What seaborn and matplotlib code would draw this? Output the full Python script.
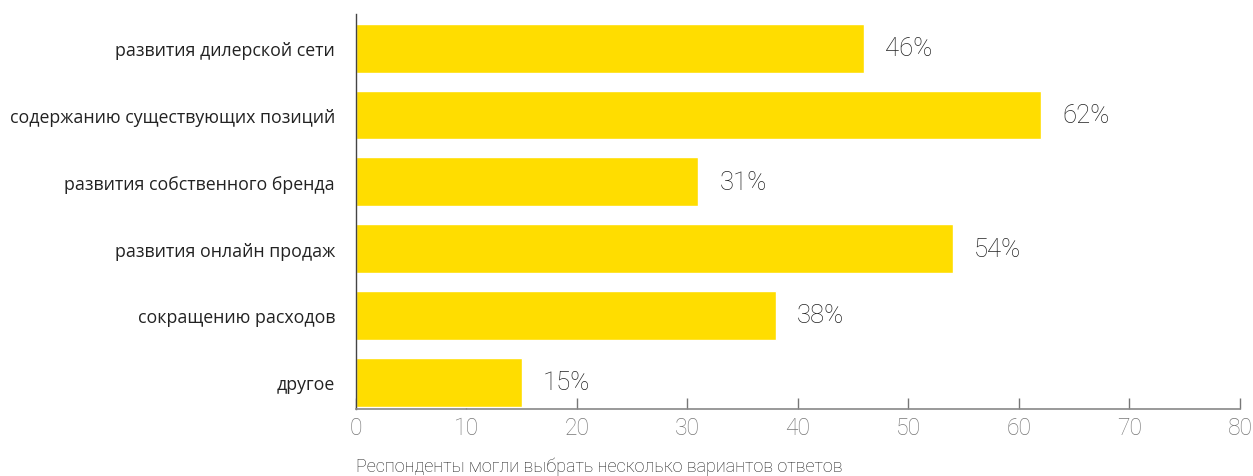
import matplotlib
matplotlib.use("Agg")
import matplotlib.pyplot as plt
import seaborn as sns
import pandas as pd

categories = [
    "развития дилерской сети",
    "содержанию существующих позиций",
    "развития собственного бренда",
    "развития онлайн продаж",
    "сокращению расходов",
    "другое",
]
values = [46, 62, 31, 54, 38, 15]
x_ticks = [0, 10, 20, 30, 40, 50, 60, 70, 80]
footnote = "Респонденты могли выбрать несколько вариантов ответов"

sns.set_theme(style="white")
plt.rcParams["font.family"] = ["Roboto", "DejaVu Sans"]

df = pd.DataFrame({"category": categories, "value": values})

fig = plt.figure(figsize=(12.53, 4.77), dpi=100)
ax = fig.add_axes([0.284, 0.1405, 0.7056, 0.828])

sns.barplot(data=df, x="value", y="category", color="#FFDD00",
            saturation=1, width=0.73, ax=ax, orient="h")

ax.set_xlim(0, 80)
ax.set_ylim(5.40, -0.51)
ax.set_xticks(x_ticks)
ax.set_xticklabels([str(t) for t in x_ticks], fontsize=16.5, fontweight="light",
                   color="#777777")
ax.set_yticks(range(len(categories)))
ax.set_yticklabels(categories, fontsize=12.8, color="#222222",
                   family=["Open Sans", "DejaVu Sans"])
ax.set_xlabel("")
ax.set_ylabel("")

ax.tick_params(axis="x", direction="in", length=8, width=1, color="#777777",
               pad=5, bottom=True)
ax.tick_params(axis="y", length=0, pad=15)

for s in ["top", "right"]:
    ax.spines[s].set_visible(False)
ax.spines["left"].set_color("#444444")
ax.spines["left"].set_linewidth(1)
ax.spines["bottom"].set_color("#888888")
ax.spines["bottom"].set_linewidth(1.2)

for i, v in enumerate(values):
    ax.annotate(f"{v}%", xy=(v, i), xytext=(15, 0), textcoords="offset points",
                ha="left", va="center", fontsize=18.5, fontweight="light",
                color="#222222")

fig.text(356 / 1253, 1 - 467 / 477, footnote, ha="left", va="center",
         fontsize=13, fontweight="light", color="#222222")

fig.savefig("out.png", dpi=100)
